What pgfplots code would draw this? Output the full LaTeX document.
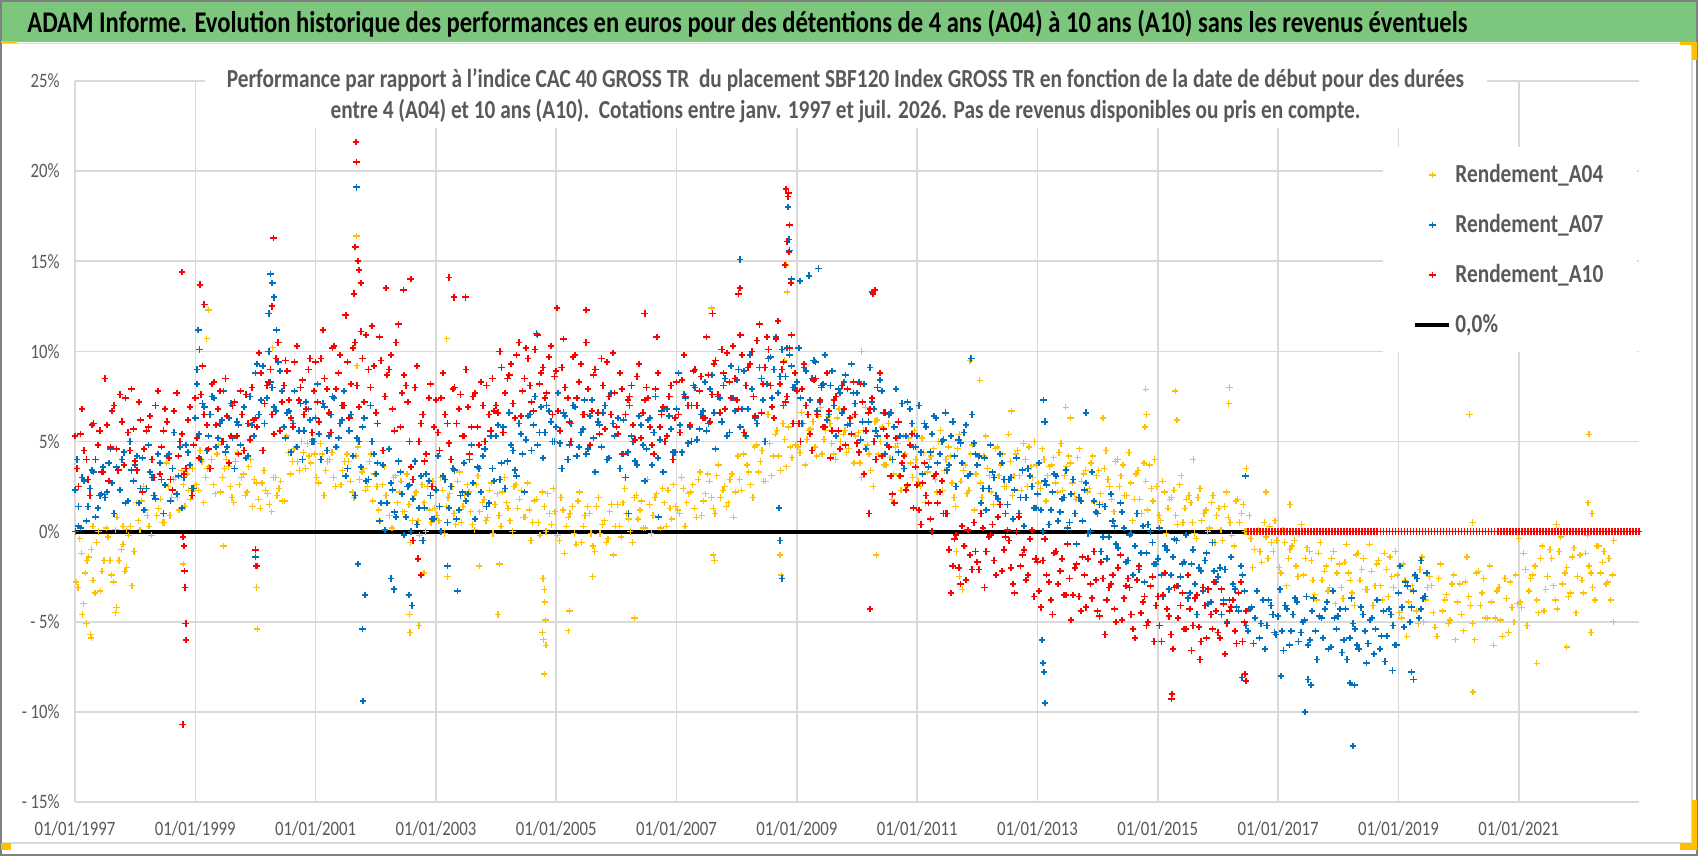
\documentclass[border=0pt]{standalone}
\usepackage{fontspec}
\setmainfont{Carlito}[FakeStretch=0.82]
\usepackage{pgfplots}
\pgfplotsset{compat=1.18}
\definecolor{cYel}{RGB}{255,192,0}
\definecolor{cBlu}{RGB}{0,112,192}
\definecolor{cRed}{RGB}{255,0,0}
\definecolor{lgray}{RGB}{89,89,89}
\definecolor{ggray}{RGB}{217,217,217}
\definecolor{bandgreen}{RGB}{125,198,125}
\definecolor{selyel}{RGB}{255,192,0}
\pgfplotsset{markleg/.style={legend image code/.code={\path[draw=none,fill=none] (0cm,-0.1cm) rectangle (0.6cm,0.1cm); \draw[##1, only marks] plot coordinates {(0.3cm,0cm)};}}}
\begin{document}
\begin{tikzpicture}
\useasboundingbox (0,0) rectangle (849bp,428bp);
\fill[white] (0,0) rectangle (849bp,428bp);
\fill[bandgreen] (0.5bp,407bp) rectangle (848.5bp,427.5bp);
\draw[ggray, line width=0.8bp] (0.5bp,6.5bp) rectangle (846bp,406.3bp);
\draw[gray, line width=1bp] (0.5bp,0.5bp) rectangle (848.5bp,427.5bp);
\fill[selyel] (0.5bp,406.3bp) rectangle (8.5bp,407.5bp);
\fill[selyel] (0.5bp,3bp) rectangle (5.5bp,6.5bp);
\fill[selyel] (846bp,3bp) rectangle (848.5bp,28bp);
\fill[selyel] (840bp,3bp) rectangle (848.5bp,6.5bp);
\fill[selyel] (840bp,405.5bp) rectangle (848.5bp,407bp);
\fill[selyel] (846bp,398bp) rectangle (848.5bp,407bp);
\begin{axis}[
  at={(37.5bp,27bp)}, anchor=south west, scale only axis,
  width=782bp, height=360.5bp,
  xmin=1997, xmax=2023, ymin=-15, ymax=25,
  clip=false,
  axis line style={draw=none},
  major tick length=0pt,
  xtick={1997,1999,...,2021},
  xticklabels={01/01/1997,01/01/1999,01/01/2001,01/01/2003,01/01/2005,01/01/2007,01/01/2009,01/01/2011,01/01/2013,01/01/2015,01/01/2017,01/01/2019,01/01/2021},
  ytick={-15,-10,...,25},
  yticklabels={- 15\%,- 10\%,- 5\%,0\%,5\%,10\%,15\%,20\%,25\%},
  grid=major,
  major grid style={ggray, line width=0.8bp},
  xticklabel style={font=\fontsize{10.2bp}{12bp}\selectfont, text=lgray, anchor=center, yshift=-13.5bp},
  yticklabel style={font=\fontsize{10.2bp}{12bp}\selectfont, text=lgray, anchor=east, inner sep=0pt, xshift=-7.5bp},
  legend cell align=left,
  legend style={at={(0.8363,0.9085)}, anchor=north west, draw=none, fill=white,
    font=\fontsize{13bp}{15bp}\selectfont\bfseries, inner xsep=15bp, inner ysep=6.5bp, row sep=10.4bp},
]
\addplot[only marks, mark=+, color=cYel, mark size=1.6bp, line width=0.65bp, markleg] table[row sep=\\] {
x y\\
1997.02 -2.8\\ 1997.08 -0.4\\ 1997.14 -4.0\\ 1997.20 -1.6\\ 1997.27 -1.0\\ 1997.33 -3.4\\ 1997.39 0.0\\ 1997.45 -2.2\\ 1997.52 0.2\\ 1997.58 -1.6\\ 1997.64 -2.8\\ 1997.70 0.8\\ 1997.77 -1.0\\ 1997.83 -2.2\\ 1997.89 -0.2\\ 1997.95 -3.0\\
1997.19 -5.1\\ 1997.26 -5.7\\ 1997.27 -5.9\\ 1997.12 -4.6\\ 1997.30 0.3\\ 1997.67 -4.5\\ 1997.69 -4.2\\ 1997.80 0.3\\ 1997.86 0.1\\
1998.02 1.6\\ 1998.08 0.1\\ 1998.14 2.5\\ 1998.20 0.9\\ 1998.27 -0.2\\ 1998.33 2.0\\ 1998.39 1.3\\ 1998.45 0.5\\ 1998.52 3.8\\ 1998.58 0.9\\ 1998.64 2.9\\ 1998.70 1.9\\ 1998.77 3.4\\ 1998.83 1.4\\ 1998.89 2.3\\ 1998.95 3.5\\
1998.82 -2.2\\ 1998.80 -1.8\\
1999.02 2.6\\ 1999.08 4.5\\ 1999.14 1.6\\ 1999.20 3.5\\ 1999.27 4.0\\ 1999.33 2.1\\ 1999.39 4.8\\ 1999.45 3.0\\ 1999.52 4.0\\ 1999.58 2.5\\ 1999.64 1.6\\ 1999.70 4.4\\ 1999.77 3.0\\ 1999.83 2.0\\ 1999.89 3.6\\ 1999.95 1.4\\
1999.22 12.3\\ 1999.19 10.7\\ 1999.47 -0.8\\
2000.02 2.7\\ 2000.08 1.3\\ 2000.14 3.4\\ 2000.20 2.1\\ 2000.27 1.1\\ 2000.33 3.0\\ 2000.39 2.4\\ 2000.45 1.7\\ 2000.52 5.3\\ 2000.58 3.2\\ 2000.64 4.6\\ 2000.70 3.9\\ 2000.77 5.0\\ 2000.83 3.5\\ 2000.89 4.2\\ 2000.95 5.1\\
2000.02 -3.1\\ 2000.03 -5.4\\ 2000.28 10.2\\
2001.02 3.0\\ 2001.08 4.9\\ 2001.14 2.0\\ 2001.20 3.9\\ 2001.27 4.4\\ 2001.33 2.5\\ 2001.39 5.2\\ 2001.45 3.4\\ 2001.52 4.3\\ 2001.58 2.8\\ 2001.64 1.9\\ 2001.70 4.7\\ 2001.77 3.3\\ 2001.83 2.3\\ 2001.89 3.9\\ 2001.95 1.7\\
2001.68 16.4\\ 2001.69 9.2\\ 2001.70 -1.8\\
2002.02 2.5\\ 2002.08 0.6\\ 2002.14 3.6\\ 2002.20 1.6\\ 2002.27 0.2\\ 2002.33 3.1\\ 2002.39 2.2\\ 2002.45 1.1\\ 2002.52 3.2\\ 2002.58 -0.6\\ 2002.64 2.0\\ 2002.70 0.6\\ 2002.77 2.6\\ 2002.83 0.0\\ 2002.89 1.2\\ 2002.95 2.8\\
2002.56 -4.6\\ 2002.57 -5.6\\ 2002.72 -5.2\\ 2002.80 -2.3\\
2003.02 0.9\\ 2003.08 3.0\\ 2003.14 -0.1\\ 2003.20 1.9\\ 2003.27 2.5\\ 2003.33 0.4\\ 2003.39 3.3\\ 2003.45 1.4\\ 2003.52 2.6\\ 2003.58 1.1\\ 2003.64 0.1\\ 2003.70 3.1\\ 2003.77 1.6\\ 2003.83 0.6\\ 2003.89 2.3\\ 2003.95 -0.1\\
2003.19 -2.5\\ 2003.18 10.7\\ 2003.72 -1.9\\
2004.02 2.1\\ 2004.08 0.3\\ 2004.14 3.0\\ 2004.20 1.3\\ 2004.27 0.0\\ 2004.33 2.6\\ 2004.39 1.8\\ 2004.45 0.8\\ 2004.52 2.7\\ 2004.58 -0.5\\ 2004.64 1.7\\ 2004.70 0.5\\ 2004.77 2.2\\ 2004.83 0.0\\ 2004.89 1.0\\ 2004.95 2.4\\
2004.06 -1.8\\ 2004.03 -4.6\\ 2004.78 -2.6\\ 2004.80 -3.2\\ 2004.81 -3.9\\ 2004.82 -4.9\\ 2004.79 -6.0\\ 2004.83 -6.3\\ 2004.80 -7.9\\ 2004.77 -5.6\\
2005.02 -0.2\\ 2005.08 1.9\\ 2005.14 -1.2\\ 2005.20 0.8\\ 2005.27 1.4\\ 2005.33 -0.7\\ 2005.39 2.2\\ 2005.45 0.3\\ 2005.52 1.4\\ 2005.58 -0.1\\ 2005.64 -1.1\\ 2005.70 1.9\\ 2005.77 0.4\\ 2005.83 -0.6\\ 2005.89 1.1\\ 2005.95 -1.3\\
2005.22 -4.4\\ 2005.20 -5.5\\ 2005.60 -2.5\\
2006.02 1.5\\ 2006.08 -0.3\\ 2006.14 2.4\\ 2006.20 0.7\\ 2006.27 -0.6\\ 2006.33 2.0\\ 2006.39 1.2\\ 2006.45 0.2\\ 2006.52 2.9\\ 2006.58 -0.1\\ 2006.64 1.9\\ 2006.70 0.8\\ 2006.77 2.4\\ 2006.83 0.3\\ 2006.89 1.3\\ 2006.95 2.6\\
2006.30 -4.8\\
2007.02 1.2\\ 2007.08 3.0\\ 2007.14 0.3\\ 2007.20 2.1\\ 2007.27 2.6\\ 2007.33 0.8\\ 2007.39 3.3\\ 2007.45 1.7\\ 2007.52 3.2\\ 2007.58 1.9\\ 2007.64 1.0\\ 2007.70 3.7\\ 2007.77 2.3\\ 2007.83 1.4\\ 2007.89 2.9\\ 2007.95 0.8\\
2007.61 -1.3\\ 2007.63 -1.6\\ 2007.58 12.4\\
2008.02 4.2\\ 2008.08 2.3\\ 2008.14 5.3\\ 2008.20 3.3\\ 2008.27 1.9\\ 2008.33 4.8\\ 2008.39 3.9\\ 2008.45 2.8\\ 2008.52 6.5\\ 2008.58 3.1\\ 2008.64 5.4\\ 2008.70 4.2\\ 2008.77 6.0\\ 2008.83 3.6\\ 2008.89 4.7\\ 2008.95 6.1\\
2008.72 -1.3\\ 2008.74 -2.4\\ 2008.82 14.8\\ 2008.84 13.3\\ 2008.80 9.5\\
2009.02 4.7\\ 2009.08 6.6\\ 2009.14 3.7\\ 2009.20 5.6\\ 2009.27 6.1\\ 2009.33 4.2\\ 2009.39 6.9\\ 2009.45 5.1\\ 2009.52 6.4\\ 2009.58 4.9\\ 2009.64 4.0\\ 2009.70 6.8\\ 2009.77 5.4\\ 2009.83 4.4\\ 2009.89 6.0\\ 2009.95 3.8\\
2010.02 5.5\\ 2010.08 3.0\\ 2010.14 6.9\\ 2010.20 4.3\\ 2010.27 2.5\\ 2010.33 6.2\\ 2010.39 5.0\\ 2010.45 3.7\\ 2010.52 6.0\\ 2010.58 1.8\\ 2010.64 4.7\\ 2010.70 3.1\\ 2010.77 5.3\\ 2010.83 2.5\\ 2010.89 3.8\\ 2010.95 5.6\\
2010.08 10.0\\ 2010.32 -1.3\\
2011.02 2.8\\ 2011.08 5.2\\ 2011.14 1.6\\ 2011.20 4.0\\ 2011.27 4.6\\ 2011.33 2.2\\ 2011.39 5.6\\ 2011.45 3.4\\ 2011.52 4.7\\ 2011.58 2.7\\ 2011.64 1.4\\ 2011.70 5.4\\ 2011.77 3.4\\ 2011.83 2.1\\ 2011.89 4.3\\ 2011.95 1.2\\
2011.65 -1.1\\ 2011.70 -2.5\\ 2011.75 -3.2\\ 2011.80 -0.8\\ 2011.88 9.5\\
2012.02 4.1\\ 2012.08 1.9\\ 2012.14 5.3\\ 2012.20 3.1\\ 2012.27 1.5\\ 2012.33 4.7\\ 2012.39 3.7\\ 2012.45 2.5\\ 2012.52 5.4\\ 2012.58 2.0\\ 2012.64 4.3\\ 2012.70 3.1\\ 2012.77 4.9\\ 2012.83 2.5\\ 2012.89 3.6\\ 2012.95 5.0\\
2012.04 8.4\\ 2012.57 6.7\\
2013.02 2.7\\ 2013.08 4.6\\ 2013.14 1.7\\ 2013.20 3.6\\ 2013.27 4.1\\ 2013.33 2.2\\ 2013.39 4.9\\ 2013.45 3.1\\ 2013.52 4.2\\ 2013.58 2.7\\ 2013.64 1.8\\ 2013.70 4.6\\ 2013.77 3.2\\ 2013.83 2.2\\ 2013.89 3.8\\ 2013.95 1.6\\
2013.47 6.9\\ 2013.55 6.3\\
2014.02 3.4\\ 2014.08 1.5\\ 2014.14 4.5\\ 2014.20 2.5\\ 2014.27 1.1\\ 2014.33 4.0\\ 2014.39 3.1\\ 2014.45 2.0\\ 2014.52 4.4\\ 2014.58 0.6\\ 2014.64 3.2\\ 2014.70 1.8\\ 2014.77 3.8\\ 2014.83 1.2\\ 2014.89 2.4\\ 2014.95 4.0\\
2014.09 6.3\\ 2014.80 7.9\\ 2014.81 6.5\\ 2014.79 5.8\\
2015.02 0.9\\ 2015.08 2.8\\ 2015.14 -0.1\\ 2015.20 1.8\\ 2015.27 2.3\\ 2015.33 0.4\\ 2015.39 3.1\\ 2015.45 1.3\\ 2015.52 2.0\\ 2015.58 0.5\\ 2015.64 -0.4\\ 2015.70 2.4\\ 2015.77 1.0\\ 2015.83 0.0\\ 2015.89 1.6\\ 2015.95 -0.6\\
2015.59 4.0\\ 2015.29 7.8\\ 2015.32 6.2\\
2016.02 1.3\\ 2016.08 -0.5\\ 2016.14 2.2\\ 2016.20 0.5\\ 2016.27 -0.8\\ 2016.33 1.8\\ 2016.39 1.0\\ 2016.45 0.0\\ 2016.52 0.9\\ 2016.58 -2.0\\ 2016.64 0.0\\ 2016.70 -1.1\\ 2016.77 0.5\\ 2016.83 -1.5\\ 2016.89 -0.6\\ 2016.95 0.6\\
2016.19 8.0\\ 2016.18 7.1\\ 2016.47 3.5\\ 2016.80 2.2\\
2017.02 -2.0\\ 2017.08 0.1\\ 2017.14 -3.0\\ 2017.20 -1.0\\ 2017.27 -0.5\\ 2017.33 -2.5\\ 2017.39 0.4\\ 2017.45 -1.5\\ 2017.52 -1.1\\ 2017.58 -2.7\\ 2017.64 -3.8\\ 2017.70 -0.6\\ 2017.77 -2.2\\ 2017.83 -3.3\\ 2017.89 -1.5\\ 2017.95 -4.0\\
2017.20 1.5\\
2018.02 -1.8\\ 2018.08 -3.7\\ 2018.14 -0.7\\ 2018.20 -2.7\\ 2018.27 -4.1\\ 2018.33 -1.2\\ 2018.39 -2.1\\ 2018.45 -3.2\\ 2018.52 -0.7\\ 2018.58 -4.1\\ 2018.64 -1.8\\ 2018.70 -3.0\\ 2018.77 -1.2\\ 2018.83 -3.6\\ 2018.89 -2.5\\ 2018.95 -1.1\\
2019.02 -4.5\\ 2019.08 -1.8\\ 2019.14 -5.8\\ 2019.20 -3.2\\ 2019.27 -2.5\\ 2019.33 -5.1\\ 2019.39 -1.4\\ 2019.45 -3.8\\ 2019.52 -2.5\\ 2019.58 -4.5\\ 2019.64 -5.8\\ 2019.70 -1.8\\ 2019.77 -3.8\\ 2019.83 -5.1\\ 2019.89 -2.9\\ 2019.95 -6.0\\
2020.02 -2.9\\ 2020.08 -5.5\\ 2020.14 -1.4\\ 2020.20 -4.1\\ 2020.27 -6.0\\ 2020.33 -2.2\\ 2020.39 -3.4\\ 2020.45 -4.8\\ 2020.52 -1.9\\ 2020.58 -6.3\\ 2020.64 -3.3\\ 2020.70 -4.9\\ 2020.77 -2.6\\ 2020.83 -5.6\\ 2020.89 -4.2\\ 2020.95 -2.4\\
2020.18 6.5\\ 2020.23 0.5\\ 2020.24 -8.9\\
2021.02 -3.9\\ 2021.08 -1.2\\ 2021.14 -5.2\\ 2021.20 -2.6\\ 2021.27 -1.9\\ 2021.33 -4.5\\ 2021.39 -0.8\\ 2021.45 -3.2\\ 2021.52 -1.0\\ 2021.58 -3.0\\ 2021.64 -4.3\\ 2021.70 -0.3\\ 2021.77 -2.3\\ 2021.83 -3.6\\ 2021.89 -1.4\\ 2021.95 -4.5\\
2021.30 -7.3\\ 2021.00 -0.4\\ 2021.80 -6.4\\ 2021.63 0.4\\
2022.02 -1.3\\ 2022.08 -3.4\\ 2022.14 -0.2\\ 2022.20 -2.3\\ 2022.27 -3.8\\ 2022.33 -0.8\\ 2022.39 -1.7\\ 2022.45 -2.9\\
2022.17 5.4\\ 2022.15 1.6\\ 2022.22 1.0\\ 2022.20 -5.6\\ 2022.50 -1.5\\ 2022.53 -3.8\\ 2022.56 -2.4\\ 2022.58 -0.5\\ 2022.57 -5.0\\
1997.05 -3.1\\ 1997.11 -1.2\\ 1997.17 -2.3\\ 1997.23 -1.4\\ 1997.30 -2.7\\ 1997.36 -0.6\\ 1997.42 -3.3\\ 1997.48 -1.6\\ 1997.55 -0.3\\ 1997.61 -2.4\\ 1997.67 0.1\\ 1997.73 -1.6\\ 1997.80 -0.7\\ 1997.86 -2.0\\ 1997.92 0.3\\ 1997.98 -1.1\\
1998.05 0.6\\ 1998.11 1.7\\ 1998.17 1.2\\ 1998.23 0.3\\ 1998.30 2.0\\ 1998.36 0.9\\ 1998.42 1.8\\ 1998.48 0.5\\ 1998.55 2.5\\ 1998.61 1.9\\ 1998.67 3.0\\ 1998.73 1.2\\ 1998.80 2.6\\ 1998.86 3.2\\ 1998.92 1.8\\ 1998.98 2.4\\
1999.05 2.3\\ 1999.11 3.9\\ 1999.17 3.0\\ 1999.23 3.6\\ 1999.30 2.6\\ 1999.36 4.3\\ 1999.42 2.2\\ 1999.48 3.5\\ 1999.55 3.6\\ 1999.61 1.9\\ 1999.67 3.9\\ 1999.73 2.6\\ 1999.80 3.2\\ 1999.86 2.2\\ 1999.92 4.0\\ 1999.98 2.9\\
2000.05 1.8\\ 2000.11 2.7\\ 2000.17 2.3\\ 2000.23 1.5\\ 2000.30 3.0\\ 2000.36 2.0\\ 2000.42 2.8\\ 2000.48 1.7\\ 2000.55 4.4\\ 2000.61 3.9\\ 2000.67 4.7\\ 2000.73 3.4\\ 2000.80 4.4\\ 2000.86 4.9\\ 2000.92 3.8\\ 2000.98 4.3\\
2001.05 2.7\\ 2001.11 4.3\\ 2001.17 3.4\\ 2001.23 4.0\\ 2001.30 3.0\\ 2001.36 4.7\\ 2001.42 2.6\\ 2001.48 3.9\\ 2001.55 3.9\\ 2001.61 2.2\\ 2001.67 4.2\\ 2001.73 2.9\\ 2001.80 3.5\\ 2001.86 2.5\\ 2001.92 4.3\\ 2001.98 3.2\\
2002.05 1.2\\ 2002.11 2.6\\ 2002.17 2.0\\ 2002.23 0.9\\ 2002.30 3.0\\ 2002.36 1.6\\ 2002.42 2.8\\ 2002.48 1.1\\ 2002.55 1.5\\ 2002.61 0.6\\ 2002.67 2.2\\ 2002.73 -0.2\\ 2002.80 1.6\\ 2002.86 2.5\\ 2002.92 0.5\\ 2002.98 1.3\\
2003.05 0.6\\ 2003.11 2.3\\ 2003.17 1.4\\ 2003.23 2.1\\ 2003.30 1.0\\ 2003.36 2.8\\ 2003.42 0.5\\ 2003.48 2.0\\ 2003.55 2.2\\ 2003.61 0.4\\ 2003.67 2.6\\ 2003.73 1.1\\ 2003.80 1.8\\ 2003.86 0.8\\ 2003.92 2.7\\ 2003.98 1.5\\
2004.05 0.9\\ 2004.11 2.2\\ 2004.17 1.6\\ 2004.23 0.6\\ 2004.30 2.5\\ 2004.36 1.3\\ 2004.42 2.3\\ 2004.48 0.8\\ 2004.55 1.2\\ 2004.61 0.5\\ 2004.67 1.8\\ 2004.73 -0.2\\ 2004.80 1.4\\ 2004.86 2.1\\ 2004.92 0.4\\ 2004.98 1.1\\
2005.05 -0.5\\ 2005.11 1.2\\ 2005.17 0.3\\ 2005.23 1.0\\ 2005.30 -0.1\\ 2005.36 1.7\\ 2005.42 -0.6\\ 2005.48 0.9\\ 2005.55 1.0\\ 2005.61 -0.8\\ 2005.67 1.4\\ 2005.73 -0.1\\ 2005.80 0.6\\ 2005.86 -0.4\\ 2005.92 1.5\\ 2005.98 0.3\\
2006.05 0.3\\ 2006.11 1.6\\ 2006.17 1.0\\ 2006.23 0.0\\ 2006.30 1.9\\ 2006.36 0.7\\ 2006.42 1.7\\ 2006.48 0.2\\ 2006.55 1.5\\ 2006.61 0.9\\ 2006.67 2.1\\ 2006.73 0.2\\ 2006.80 1.6\\ 2006.86 2.3\\ 2006.92 0.7\\ 2006.98 1.4\\
2007.05 1.0\\ 2007.11 2.4\\ 2007.17 1.6\\ 2007.23 2.2\\ 2007.30 1.3\\ 2007.36 2.9\\ 2007.42 0.9\\ 2007.48 2.1\\ 2007.55 2.8\\ 2007.61 1.3\\ 2007.67 3.1\\ 2007.73 1.9\\ 2007.80 2.5\\ 2007.86 1.6\\ 2007.92 3.2\\ 2007.98 2.2\\
2008.05 2.9\\ 2008.11 4.3\\ 2008.17 3.7\\ 2008.23 2.6\\ 2008.30 4.7\\ 2008.36 3.3\\ 2008.42 4.5\\ 2008.48 2.8\\ 2008.55 4.9\\ 2008.61 4.2\\ 2008.67 5.6\\ 2008.73 3.4\\ 2008.80 5.1\\ 2008.86 5.8\\ 2008.92 4.1\\ 2008.98 4.8\\
2009.05 4.4\\ 2009.11 6.0\\ 2009.17 5.1\\ 2009.23 5.7\\ 2009.30 4.7\\ 2009.36 6.4\\ 2009.42 4.3\\ 2009.48 5.6\\ 2009.55 6.0\\ 2009.61 4.3\\ 2009.67 6.3\\ 2009.73 5.0\\ 2009.80 5.6\\ 2009.86 4.6\\ 2009.92 6.4\\ 2009.98 5.3\\
2010.05 3.8\\ 2010.11 5.6\\ 2010.17 4.8\\ 2010.23 3.4\\ 2010.30 6.1\\ 2010.36 4.3\\ 2010.42 5.8\\ 2010.48 3.7\\ 2010.55 4.1\\ 2010.61 3.2\\ 2010.67 4.9\\ 2010.73 2.3\\ 2010.80 4.3\\ 2010.86 5.2\\ 2010.92 3.0\\ 2010.98 4.0\\
2011.05 2.5\\ 2011.11 4.4\\ 2011.17 3.3\\ 2011.23 4.2\\ 2011.30 2.9\\ 2011.36 5.0\\ 2011.42 2.3\\ 2011.48 4.0\\ 2011.55 4.2\\ 2011.61 1.9\\ 2011.67 4.6\\ 2011.73 2.8\\ 2011.80 3.7\\ 2011.86 2.3\\ 2011.92 4.8\\ 2011.98 3.2\\
2012.05 2.7\\ 2012.11 4.2\\ 2012.17 3.5\\ 2012.23 2.2\\ 2012.30 4.6\\ 2012.36 3.1\\ 2012.42 4.3\\ 2012.48 2.5\\ 2012.55 3.9\\ 2012.61 3.1\\ 2012.67 4.5\\ 2012.73 2.3\\ 2012.80 4.0\\ 2012.86 4.7\\ 2012.92 3.0\\ 2012.98 3.7\\
2013.05 2.4\\ 2013.11 4.0\\ 2013.17 3.1\\ 2013.23 3.7\\ 2013.30 2.7\\ 2013.36 4.4\\ 2013.42 2.3\\ 2013.48 3.6\\ 2013.55 3.8\\ 2013.61 2.1\\ 2013.67 4.1\\ 2013.73 2.8\\ 2013.80 3.4\\ 2013.86 2.4\\ 2013.92 4.2\\ 2013.98 3.1\\
2014.05 2.1\\ 2014.11 3.5\\ 2014.17 2.9\\ 2014.23 1.8\\ 2014.30 3.9\\ 2014.36 2.5\\ 2014.42 3.7\\ 2014.48 2.0\\ 2014.55 2.7\\ 2014.61 1.8\\ 2014.67 3.4\\ 2014.73 1.0\\ 2014.80 2.8\\ 2014.86 3.7\\ 2014.92 1.7\\ 2014.98 2.5\\
2015.05 0.6\\ 2015.11 2.2\\ 2015.17 1.3\\ 2015.23 1.9\\ 2015.30 0.9\\ 2015.36 2.6\\ 2015.42 0.5\\ 2015.48 1.8\\ 2015.55 1.6\\ 2015.61 -0.1\\ 2015.67 1.9\\ 2015.73 0.6\\ 2015.80 1.2\\ 2015.86 0.2\\ 2015.92 2.0\\ 2015.98 0.9\\
2016.05 0.1\\ 2016.11 1.4\\ 2016.17 0.8\\ 2016.23 -0.2\\ 2016.30 1.7\\ 2016.36 0.5\\ 2016.42 1.5\\ 2016.48 0.0\\ 2016.55 -0.4\\ 2016.61 -1.0\\ 2016.67 0.1\\ 2016.73 -1.7\\ 2016.80 -0.3\\ 2016.86 0.3\\ 2016.92 -1.1\\ 2016.98 -0.5\\
2017.05 -2.3\\ 2017.11 -0.6\\ 2017.17 -1.5\\ 2017.23 -0.8\\ 2017.30 -1.9\\ 2017.36 -0.1\\ 2017.42 -2.4\\ 2017.48 -0.9\\ 2017.55 -1.6\\ 2017.61 -3.5\\ 2017.67 -1.2\\ 2017.73 -2.7\\ 2017.80 -1.9\\ 2017.86 -3.1\\ 2017.92 -1.1\\ 2017.98 -2.3\\
2018.05 -3.1\\ 2018.11 -1.7\\ 2018.17 -2.3\\ 2018.23 -3.4\\ 2018.30 -1.3\\ 2018.36 -2.7\\ 2018.42 -1.5\\ 2018.48 -3.2\\ 2018.55 -2.2\\ 2018.61 -3.0\\ 2018.67 -1.6\\ 2018.73 -3.8\\ 2018.80 -2.1\\ 2018.86 -1.4\\ 2018.92 -3.1\\ 2018.98 -2.4\\
2019.05 -4.8\\ 2019.11 -2.7\\ 2019.17 -3.9\\ 2019.23 -3.0\\ 2019.30 -4.4\\ 2019.36 -2.1\\ 2019.42 -5.0\\ 2019.48 -3.1\\ 2019.55 -3.0\\ 2019.61 -5.3\\ 2019.67 -2.6\\ 2019.73 -4.4\\ 2019.80 -3.5\\ 2019.86 -4.9\\ 2019.92 -2.4\\ 2019.98 -3.9\\
2020.05 -4.6\\ 2020.11 -2.8\\ 2020.17 -3.6\\ 2020.23 -5.1\\ 2020.30 -2.3\\ 2020.36 -4.1\\ 2020.42 -2.6\\ 2020.48 -4.8\\ 2020.55 -3.9\\ 2020.61 -4.8\\ 2020.67 -3.1\\ 2020.73 -5.8\\ 2020.80 -3.7\\ 2020.86 -2.8\\ 2020.92 -5.0\\ 2020.98 -4.0\\
2021.05 -4.2\\ 2021.11 -2.1\\ 2021.17 -3.3\\ 2021.23 -2.4\\ 2021.30 -3.8\\ 2021.36 -1.5\\ 2021.42 -4.4\\ 2021.48 -2.5\\ 2021.55 -1.5\\ 2021.61 -3.8\\ 2021.67 -1.1\\ 2021.73 -2.9\\ 2021.80 -2.0\\ 2021.86 -3.4\\ 2021.92 -0.9\\ 2021.98 -2.5\\
2022.05 -2.7\\ 2022.11 -1.2\\ 2022.17 -1.9\\ 2022.23 -3.1\\ 2022.30 -0.8\\ 2022.36 -2.3\\ 2022.42 -1.1\\ 2022.48 -2.8\\
};
\addlegendentry{\textcolor{lgray}{Rendement\_A04}}
\addplot[only marks, mark=+, color=cBlu, mark size=1.6bp, line width=0.85bp, markleg] table[row sep=\\] {
x y\\
1997.03 4.0\\ 1997.09 0.2\\ 1997.15 2.8\\ 1997.22 1.4\\ 1997.28 3.4\\ 1997.34 0.8\\ 1997.41 2.0\\ 1997.47 3.6\\ 1997.53 2.2\\ 1997.59 4.6\\ 1997.65 1.0\\ 1997.72 3.4\\ 1997.78 4.0\\ 1997.84 1.6\\ 1997.91 5.0\\ 1997.97 2.8\\
1997.01 0.0\\ 1997.06 0.3\\
1998.03 4.2\\ 1998.09 2.4\\ 1998.15 1.2\\ 1998.22 4.8\\ 1998.28 3.0\\ 1998.34 1.8\\ 1998.41 3.8\\ 1998.47 1.0\\ 1998.53 4.2\\ 1998.59 1.7\\ 1998.65 5.5\\ 1998.72 3.1\\ 1998.78 1.3\\ 1998.84 4.8\\ 1998.91 3.7\\ 1998.97 2.4\\
1999.03 9.0\\ 1999.05 11.2\\ 1999.07 10.1\\
1999.03 8.2\\ 1999.09 4.0\\ 1999.15 6.9\\ 1999.22 5.3\\ 1999.28 7.5\\ 1999.34 4.7\\ 1999.41 6.0\\ 1999.47 7.8\\ 1999.53 4.7\\ 1999.59 7.1\\ 1999.65 3.5\\ 1999.72 5.9\\ 1999.78 6.5\\ 1999.84 4.1\\ 1999.91 7.5\\ 1999.97 5.3\\
2000.03 9.3\\ 2000.09 7.3\\ 2000.15 6.0\\ 2000.22 10.0\\ 2000.28 8.0\\ 2000.34 6.7\\ 2000.41 8.9\\ 2000.47 5.8\\ 2000.53 6.6\\ 2000.59 4.4\\ 2000.65 7.8\\ 2000.72 5.6\\ 2000.78 4.0\\ 2000.84 7.2\\ 2000.91 6.2\\ 2000.97 5.0\\
2000.00 -1.4\\ 2000.01 -1.9\\ 2000.25 14.3\\ 2000.28 13.8\\ 2000.31 13.0\\ 2000.22 12.1\\ 2000.35 11.2\\
2001.03 8.2\\ 2001.09 4.0\\ 2001.15 6.9\\ 2001.22 5.3\\ 2001.28 7.5\\ 2001.34 4.7\\ 2001.41 6.0\\ 2001.47 7.8\\ 2001.53 3.5\\ 2001.59 6.5\\ 2001.65 2.0\\ 2001.72 5.0\\ 2001.78 5.8\\ 2001.84 2.8\\ 2001.91 7.0\\ 2001.97 4.3\\
2001.68 19.1\\ 2001.70 -1.8\\ 2001.82 -3.5\\ 2001.78 -5.4\\ 2001.79 -9.4\\
2002.03 3.8\\ 2002.09 1.6\\ 2002.15 0.1\\ 2002.22 4.6\\ 2002.28 2.3\\ 2002.34 0.8\\ 2002.41 3.3\\ 2002.47 -0.2\\ 2002.53 2.5\\ 2002.59 0.0\\ 2002.65 3.9\\ 2002.72 1.3\\ 2002.78 -0.5\\ 2002.84 3.2\\ 2002.91 2.0\\ 2002.97 0.7\\
2002.25 -2.6\\ 2002.30 -3.2\\ 2002.55 -3.5\\ 2002.60 -4.1\\
2003.03 4.2\\ 2003.09 0.0\\ 2003.15 2.9\\ 2003.22 1.3\\ 2003.28 3.5\\ 2003.34 0.7\\ 2003.41 2.0\\ 2003.47 3.8\\ 2003.53 2.1\\ 2003.59 4.8\\ 2003.65 0.7\\ 2003.72 3.5\\ 2003.78 4.2\\ 2003.84 1.4\\ 2003.91 5.3\\ 2003.97 2.8\\
2003.19 -1.9\\ 2003.36 -3.3\\
2004.03 5.9\\ 2004.09 3.8\\ 2004.15 2.4\\ 2004.22 6.6\\ 2004.28 4.5\\ 2004.34 3.1\\ 2004.41 5.4\\ 2004.47 2.2\\ 2004.53 6.4\\ 2004.59 4.5\\ 2004.65 7.5\\ 2004.72 5.5\\ 2004.78 4.1\\ 2004.84 7.0\\ 2004.91 6.1\\ 2004.97 5.0\\
2004.67 11.0\\
2005.03 7.7\\ 2005.09 3.5\\ 2005.15 6.4\\ 2005.22 4.8\\ 2005.28 7.0\\ 2005.34 4.2\\ 2005.41 5.5\\ 2005.47 7.3\\ 2005.53 4.6\\ 2005.59 7.3\\ 2005.65 3.3\\ 2005.72 5.9\\ 2005.78 6.6\\ 2005.84 4.0\\ 2005.91 7.7\\ 2005.97 5.3\\
2006.03 6.3\\ 2006.09 4.3\\ 2006.15 3.0\\ 2006.22 7.0\\ 2006.28 5.0\\ 2006.34 3.7\\ 2006.41 5.9\\ 2006.47 2.8\\ 2006.53 6.2\\ 2006.59 3.7\\ 2006.65 7.5\\ 2006.72 5.1\\ 2006.78 3.3\\ 2006.84 6.8\\ 2006.91 5.7\\ 2006.97 4.4\\
2006.20 1.0\\ 2006.70 0.8\\
2007.03 8.8\\ 2007.09 4.4\\ 2007.15 7.4\\ 2007.22 5.8\\ 2007.28 8.1\\ 2007.34 5.1\\ 2007.41 6.5\\ 2007.47 8.3\\ 2007.53 6.0\\ 2007.59 8.7\\ 2007.65 4.6\\ 2007.72 7.4\\ 2007.78 8.1\\ 2007.84 5.3\\ 2007.91 9.2\\ 2007.97 6.7\\
2008.03 9.0\\ 2008.09 6.8\\ 2008.15 5.3\\ 2008.22 9.8\\ 2008.28 7.5\\ 2008.34 6.0\\ 2008.41 8.5\\ 2008.47 5.0\\ 2008.53 9.6\\ 2008.59 7.4\\ 2008.65 10.8\\ 2008.72 8.6\\ 2008.78 7.0\\ 2008.84 10.2\\ 2008.91 9.2\\ 2008.97 8.0\\
2008.05 15.1\\ 2008.85 18.0\\ 2008.87 16.2\\ 2008.88 15.6\\ 2008.91 14.0\\ 2008.72 -0.5\\ 2008.75 -2.6\\ 2008.70 1.3\\
2009.03 10.2\\ 2009.09 6.0\\ 2009.15 8.9\\ 2009.22 7.3\\ 2009.28 9.5\\ 2009.34 6.7\\ 2009.41 8.0\\ 2009.47 9.8\\ 2009.53 6.5\\ 2009.59 8.9\\ 2009.65 5.3\\ 2009.72 7.7\\ 2009.78 8.3\\ 2009.84 5.9\\ 2009.91 9.3\\ 2009.97 7.1\\
2009.05 13.9\\ 2009.20 14.2\\ 2009.36 14.6\\
2010.03 8.3\\ 2010.09 6.1\\ 2010.15 4.6\\ 2010.22 9.1\\ 2010.28 6.8\\ 2010.34 5.3\\ 2010.41 7.8\\ 2010.47 4.3\\ 2010.53 6.5\\ 2010.59 4.0\\ 2010.65 7.9\\ 2010.72 5.3\\ 2010.78 3.5\\ 2010.84 7.2\\ 2010.91 6.0\\ 2010.97 4.7\\
2010.25 13.3\\
2011.03 7.0\\ 2011.09 3.2\\ 2011.15 5.8\\ 2011.22 4.4\\ 2011.28 6.4\\ 2011.34 3.8\\ 2011.41 5.0\\ 2011.47 6.6\\ 2011.53 3.7\\ 2011.59 6.1\\ 2011.65 2.5\\ 2011.72 4.9\\ 2011.78 5.5\\ 2011.84 3.1\\ 2011.91 6.5\\ 2011.97 4.3\\
2011.90 9.6\\
2012.03 4.2\\ 2012.09 2.4\\ 2012.15 1.2\\ 2012.22 4.8\\ 2012.28 3.0\\ 2012.34 1.8\\ 2012.41 3.8\\ 2012.47 1.0\\ 2012.53 2.9\\ 2012.59 0.7\\ 2012.65 4.1\\ 2012.72 1.9\\ 2012.78 0.3\\ 2012.84 3.5\\ 2012.91 2.5\\ 2012.97 1.3\\
2013.03 3.8\\ 2013.09 0.0\\ 2013.15 2.6\\ 2013.22 1.2\\ 2013.28 3.2\\ 2013.34 0.6\\ 2013.41 1.8\\ 2013.47 3.4\\ 2013.53 0.5\\ 2013.59 2.9\\ 2013.65 -0.7\\ 2013.72 1.7\\ 2013.78 2.3\\ 2013.84 -0.1\\ 2013.91 3.3\\ 2013.97 1.1\\
2013.10 7.3\\ 2013.12 6.1\\ 2013.08 -6.0\\ 2013.09 -7.3\\ 2013.11 -7.8\\ 2013.13 -9.5\\ 2013.81 6.6\\
2014.03 1.5\\ 2014.09 -0.3\\ 2014.15 -1.5\\ 2014.22 2.1\\ 2014.28 0.3\\ 2014.34 -0.9\\ 2014.41 1.1\\ 2014.47 -1.7\\ 2014.53 -0.2\\ 2014.59 -2.4\\ 2014.65 1.0\\ 2014.72 -1.2\\ 2014.78 -2.8\\ 2014.84 0.4\\ 2014.91 -0.6\\ 2014.97 -1.8\\
2015.03 0.2\\ 2015.09 -3.6\\ 2015.15 -1.0\\ 2015.22 -2.4\\ 2015.28 -0.4\\ 2015.34 -3.0\\ 2015.41 -1.8\\ 2015.47 -0.2\\ 2015.53 -3.4\\ 2015.59 -1.0\\ 2015.65 -4.6\\ 2015.72 -2.2\\ 2015.78 -1.6\\ 2015.84 -4.0\\ 2015.91 -0.6\\ 2015.97 -2.8\\
2016.03 -2.0\\ 2016.09 -3.8\\ 2016.15 -5.0\\ 2016.22 -1.4\\ 2016.28 -3.2\\ 2016.34 -4.4\\ 2016.41 -2.4\\ 2016.47 -5.2\\ 2016.53 -4.3\\ 2016.59 -6.2\\ 2016.65 -3.3\\ 2016.72 -5.1\\ 2016.78 -6.5\\ 2016.84 -3.8\\ 2016.91 -4.6\\ 2016.97 -5.7\\
2016.40 -8.1\\ 2016.46 3.1\\
2017.03 -3.2\\ 2017.09 -6.6\\ 2017.15 -4.3\\ 2017.22 -5.5\\ 2017.28 -3.7\\ 2017.34 -6.1\\ 2017.41 -5.0\\ 2017.47 -3.6\\ 2017.53 -6.0\\ 2017.59 -3.7\\ 2017.65 -7.1\\ 2017.72 -4.8\\ 2017.78 -4.3\\ 2017.84 -6.5\\ 2017.91 -3.3\\ 2017.97 -5.4\\
2017.05 -8.0\\ 2017.45 -10.0\\ 2017.50 -8.2\\ 2017.55 -8.5\\
2018.03 -4.3\\ 2018.09 -6.0\\ 2018.15 -7.1\\ 2018.22 -3.7\\ 2018.28 -5.4\\ 2018.34 -6.5\\ 2018.41 -4.6\\ 2018.47 -7.3\\ 2018.53 -4.9\\ 2018.59 -6.8\\ 2018.65 -3.8\\ 2018.72 -5.8\\ 2018.78 -7.2\\ 2018.84 -4.3\\ 2018.91 -5.2\\ 2018.97 -6.3\\
2018.25 -11.9\\ 2018.20 -8.4\\ 2018.27 -8.5\\ 2018.90 -7.7\\
2019.03 -1.9\\ 2019.09 -5.3\\ 2019.15 -3.0\\ 2019.22 -4.2\\ 2019.28 -2.4\\ 2019.34 -4.8\\ 2019.41 -3.7\\ 2019.47 -2.3\\
2019.22 -7.8\\ 2019.25 -8.2\\ 2019.38 -1.6\\
1997.00 2.3\\ 1997.06 1.4\\ 1997.12 3.0\\ 1997.19 0.6\\ 1997.25 2.4\\ 1997.31 3.3\\ 1997.38 1.3\\ 1997.44 2.1\\ 1997.50 1.9\\ 1997.56 3.8\\ 1997.62 2.7\\ 1997.69 3.6\\ 1997.75 2.3\\ 1997.81 4.4\\ 1997.88 1.7\\ 1997.94 3.4\\
1998.00 3.7\\ 1998.06 1.6\\ 1998.12 4.1\\ 1998.19 2.4\\ 1998.25 3.3\\ 1998.31 2.0\\ 1998.38 4.3\\ 1998.44 2.9\\ 1998.50 2.6\\ 1998.56 4.3\\ 1998.62 3.5\\ 1998.69 2.1\\ 1998.75 4.7\\ 1998.81 3.0\\ 1998.88 4.4\\ 1998.94 2.4\\
1999.00 6.3\\ 1999.06 5.4\\ 1999.12 7.1\\ 1999.19 4.5\\ 1999.25 6.5\\ 1999.31 7.4\\ 1999.38 5.2\\ 1999.44 6.2\\ 1999.50 4.4\\ 1999.56 6.3\\ 1999.62 5.2\\ 1999.69 6.1\\ 1999.75 4.8\\ 1999.81 6.9\\ 1999.88 4.2\\ 1999.94 5.9\\
2000.00 8.8\\ 2000.06 6.5\\ 2000.12 9.2\\ 2000.19 7.4\\ 2000.25 8.3\\ 2000.31 6.9\\ 2000.38 9.4\\ 2000.44 7.8\\ 2000.50 5.2\\ 2000.56 6.7\\ 2000.62 6.0\\ 2000.69 4.7\\ 2000.75 7.1\\ 2000.81 5.6\\ 2000.88 6.8\\ 2000.94 5.0\\
2001.00 6.3\\ 2001.06 5.4\\ 2001.12 7.1\\ 2001.19 4.5\\ 2001.25 6.5\\ 2001.31 7.4\\ 2001.38 5.2\\ 2001.44 6.2\\ 2001.50 3.1\\ 2001.56 5.6\\ 2001.62 4.2\\ 2001.69 5.2\\ 2001.75 3.6\\ 2001.81 6.3\\ 2001.88 2.9\\ 2001.94 5.0\\
2002.00 3.2\\ 2002.06 0.6\\ 2002.12 3.7\\ 2002.19 1.6\\ 2002.25 2.7\\ 2002.31 1.1\\ 2002.38 3.9\\ 2002.44 2.1\\ 2002.50 0.8\\ 2002.56 2.6\\ 2002.62 1.8\\ 2002.69 0.4\\ 2002.75 3.1\\ 2002.81 1.3\\ 2002.88 2.8\\ 2002.94 0.7\\
2003.00 2.3\\ 2003.06 1.4\\ 2003.12 3.1\\ 2003.19 0.5\\ 2003.25 2.5\\ 2003.31 3.4\\ 2003.38 1.2\\ 2003.44 2.2\\ 2003.50 1.7\\ 2003.56 4.0\\ 2003.62 2.7\\ 2003.69 3.6\\ 2003.75 2.2\\ 2003.81 4.6\\ 2003.88 1.6\\ 2003.94 3.5\\
2004.00 5.3\\ 2004.06 2.9\\ 2004.12 5.8\\ 2004.19 3.9\\ 2004.25 4.8\\ 2004.31 3.4\\ 2004.38 6.0\\ 2004.44 4.3\\ 2004.50 5.1\\ 2004.56 6.5\\ 2004.62 5.9\\ 2004.69 4.8\\ 2004.75 6.9\\ 2004.81 5.5\\ 2004.88 6.7\\ 2004.94 5.0\\
2005.00 5.8\\ 2005.06 4.9\\ 2005.12 6.6\\ 2005.19 4.0\\ 2005.25 6.0\\ 2005.31 6.9\\ 2005.38 4.7\\ 2005.44 5.7\\ 2005.50 4.3\\ 2005.56 6.4\\ 2005.62 5.2\\ 2005.69 6.1\\ 2005.75 4.7\\ 2005.81 7.0\\ 2005.88 4.1\\ 2005.94 6.0\\
2006.00 5.8\\ 2006.06 3.5\\ 2006.12 6.2\\ 2006.19 4.4\\ 2006.25 5.3\\ 2006.31 3.9\\ 2006.38 6.4\\ 2006.44 4.8\\ 2006.50 4.6\\ 2006.56 6.3\\ 2006.62 5.5\\ 2006.69 4.1\\ 2006.75 6.7\\ 2006.81 5.0\\ 2006.88 6.4\\ 2006.94 4.4\\
2007.00 6.8\\ 2007.06 5.9\\ 2007.12 7.6\\ 2007.19 4.9\\ 2007.25 7.0\\ 2007.31 8.0\\ 2007.38 5.7\\ 2007.44 6.7\\ 2007.50 5.6\\ 2007.56 7.9\\ 2007.62 6.6\\ 2007.69 7.5\\ 2007.75 6.1\\ 2007.81 8.5\\ 2007.88 5.5\\ 2007.94 7.4\\
2008.00 8.4\\ 2008.06 5.8\\ 2008.12 8.9\\ 2008.19 6.8\\ 2008.25 7.9\\ 2008.31 6.3\\ 2008.38 9.1\\ 2008.44 7.3\\ 2008.50 8.2\\ 2008.56 9.7\\ 2008.62 9.0\\ 2008.69 7.7\\ 2008.75 10.1\\ 2008.81 8.6\\ 2008.88 9.8\\ 2008.94 8.0\\
2009.00 8.3\\ 2009.06 7.4\\ 2009.12 9.1\\ 2009.19 6.5\\ 2009.25 8.5\\ 2009.31 9.4\\ 2009.38 7.2\\ 2009.44 8.2\\ 2009.50 6.2\\ 2009.56 8.1\\ 2009.62 7.0\\ 2009.69 7.9\\ 2009.75 6.6\\ 2009.81 8.7\\ 2009.88 6.0\\ 2009.94 7.7\\
2010.00 7.7\\ 2010.06 5.1\\ 2010.12 8.2\\ 2010.19 6.1\\ 2010.25 7.2\\ 2010.31 5.6\\ 2010.38 8.4\\ 2010.44 6.6\\ 2010.50 4.8\\ 2010.56 6.6\\ 2010.62 5.8\\ 2010.69 4.4\\ 2010.75 7.1\\ 2010.81 5.3\\ 2010.88 6.8\\ 2010.94 4.7\\
2011.00 5.3\\ 2011.06 4.4\\ 2011.12 6.0\\ 2011.19 3.6\\ 2011.25 5.4\\ 2011.31 6.3\\ 2011.38 4.3\\ 2011.44 5.1\\ 2011.50 3.4\\ 2011.56 5.3\\ 2011.62 4.2\\ 2011.69 5.1\\ 2011.75 3.8\\ 2011.81 5.9\\ 2011.88 3.2\\ 2011.94 4.9\\
2012.00 3.7\\ 2012.06 1.6\\ 2012.12 4.1\\ 2012.19 2.4\\ 2012.25 3.3\\ 2012.31 2.0\\ 2012.38 4.3\\ 2012.44 2.9\\ 2012.50 1.5\\ 2012.56 3.0\\ 2012.62 2.3\\ 2012.69 1.0\\ 2012.75 3.4\\ 2012.81 1.9\\ 2012.88 3.1\\ 2012.94 1.3\\
2013.00 2.1\\ 2013.06 1.2\\ 2013.12 2.8\\ 2013.19 0.4\\ 2013.25 2.2\\ 2013.31 3.1\\ 2013.38 1.1\\ 2013.44 1.9\\ 2013.50 0.2\\ 2013.56 2.1\\ 2013.62 1.0\\ 2013.69 1.9\\ 2013.75 0.6\\ 2013.81 2.7\\ 2013.88 0.0\\ 2013.94 1.7\\
2014.00 1.0\\ 2014.06 -1.1\\ 2014.12 1.4\\ 2014.19 -0.3\\ 2014.25 0.6\\ 2014.31 -0.7\\ 2014.38 1.6\\ 2014.44 0.2\\ 2014.50 -1.6\\ 2014.56 -0.1\\ 2014.62 -0.8\\ 2014.69 -2.1\\ 2014.75 0.3\\ 2014.81 -1.2\\ 2014.88 0.0\\ 2014.94 -1.8\\
2015.00 -1.5\\ 2015.06 -2.4\\ 2015.12 -0.8\\ 2015.19 -3.2\\ 2015.25 -1.4\\ 2015.31 -0.5\\ 2015.38 -2.5\\ 2015.44 -1.7\\ 2015.50 -3.7\\ 2015.56 -1.8\\ 2015.62 -2.9\\ 2015.69 -2.0\\ 2015.75 -3.3\\ 2015.81 -1.2\\ 2015.88 -3.9\\ 2015.94 -2.2\\
2016.00 -2.5\\ 2016.06 -4.6\\ 2016.12 -2.1\\ 2016.19 -3.8\\ 2016.25 -2.9\\ 2016.31 -4.2\\ 2016.38 -1.9\\ 2016.44 -3.3\\ 2016.50 -5.5\\ 2016.56 -4.2\\ 2016.62 -4.8\\ 2016.69 -5.9\\ 2016.75 -3.8\\ 2016.81 -5.2\\ 2016.88 -4.1\\ 2016.94 -5.6\\
2017.00 -4.7\\ 2017.06 -5.5\\ 2017.12 -4.1\\ 2017.19 -6.3\\ 2017.25 -4.6\\ 2017.31 -3.9\\ 2017.38 -5.6\\ 2017.44 -4.9\\ 2017.50 -6.3\\ 2017.56 -4.4\\ 2017.62 -5.5\\ 2017.69 -4.7\\ 2017.75 -5.9\\ 2017.81 -3.9\\ 2017.88 -6.4\\ 2017.94 -4.8\\
2018.00 -4.7\\ 2018.06 -6.7\\ 2018.12 -4.3\\ 2018.19 -5.9\\ 2018.25 -5.1\\ 2018.31 -6.3\\ 2018.38 -4.2\\ 2018.44 -5.5\\ 2018.50 -6.2\\ 2018.56 -4.8\\ 2018.62 -5.4\\ 2018.69 -6.5\\ 2018.75 -4.4\\ 2018.81 -5.8\\ 2018.88 -4.6\\ 2018.94 -6.3\\
2019.00 -3.4\\ 2019.06 -4.2\\ 2019.12 -2.8\\ 2019.19 -5.0\\ 2019.25 -3.3\\ 2019.31 -2.6\\ 2019.38 -4.3\\ 2019.44 -3.6\\
};
\addlegendentry{\textcolor{lgray}{Rendement\_A07}}
\addplot[only marks, mark=+, color=cRed, mark size=1.6bp, line width=0.85bp, markleg] table[row sep=\\] {
x y\\
1997.00 5.3\\ 1997.06 2.5\\ 1997.12 6.8\\ 1997.19 4.0\\ 1997.25 2.0\\ 1997.31 6.0\\ 1997.38 4.8\\ 1997.44 3.3\\ 1997.50 8.5\\ 1997.56 2.8\\ 1997.62 6.7\\ 1997.69 4.6\\ 1997.75 7.6\\ 1997.81 3.7\\ 1997.88 5.5\\ 1997.94 7.9\\
1998.00 3.9\\ 1998.06 7.2\\ 1998.12 2.2\\ 1998.19 5.6\\ 1998.25 6.4\\ 1998.31 3.0\\ 1998.38 7.8\\ 1998.44 4.7\\ 1998.50 6.8\\ 1998.56 4.1\\ 1998.62 2.3\\ 1998.69 7.7\\ 1998.75 5.0\\ 1998.81 3.2\\ 1998.88 6.2\\ 1998.94 2.0\\
1998.78 14.4\\ 1998.80 -0.3\\ 1998.81 -0.8\\ 1998.82 -2.2\\ 1998.83 -3.1\\ 1998.84 -5.1\\ 1998.85 -6.0\\ 1998.79 -10.7\\
1999.00 7.4\\ 1999.06 4.1\\ 1999.12 9.2\\ 1999.19 5.9\\ 1999.25 3.5\\ 1999.31 8.3\\ 1999.38 6.8\\ 1999.44 5.0\\ 1999.50 8.5\\ 1999.56 3.8\\ 1999.62 7.0\\ 1999.69 5.3\\ 1999.75 7.8\\ 1999.81 4.5\\ 1999.88 6.0\\ 1999.94 8.0\\
1999.08 13.7\\ 1999.15 12.6\\
2000.00 6.3\\ 2000.06 9.9\\ 2000.12 4.5\\ 2000.19 8.1\\ 2000.25 9.0\\ 2000.31 5.4\\ 2000.38 10.5\\ 2000.44 7.2\\ 2000.50 9.5\\ 2000.56 7.3\\ 2000.62 5.8\\ 2000.69 10.3\\ 2000.75 8.0\\ 2000.81 6.5\\ 2000.88 9.0\\ 2000.94 5.5\\
2000.00 -1.0\\ 2000.02 -1.9\\ 2000.30 16.3\\ 2000.27 12.5\\
2001.00 9.4\\ 2001.06 6.1\\ 2001.12 11.2\\ 2001.19 7.9\\ 2001.25 5.5\\ 2001.31 10.3\\ 2001.38 8.8\\ 2001.44 7.0\\ 2001.50 12.0\\ 2001.56 6.3\\ 2001.62 10.2\\ 2001.69 8.1\\ 2001.75 11.1\\ 2001.81 7.2\\ 2001.88 9.0\\ 2001.94 11.4\\
2001.67 21.6\\ 2001.68 20.5\\ 2001.66 15.8\\ 2001.70 15.0\\ 2001.72 14.5\\ 2001.64 13.2\\ 2001.75 13.8\\
2002.00 6.6\\ 2002.06 10.8\\ 2002.12 4.5\\ 2002.19 8.7\\ 2002.25 9.8\\ 2002.31 5.6\\ 2002.38 11.5\\ 2002.44 7.7\\ 2002.50 8.1\\ 2002.56 5.0\\ 2002.62 2.9\\ 2002.69 9.2\\ 2002.75 6.0\\ 2002.81 3.9\\ 2002.88 7.4\\ 2002.94 2.5\\
2002.17 13.5\\ 2002.46 13.4\\ 2002.58 14.0\\ 2002.62 -0.5\\ 2002.70 -1.5\\ 2002.75 -2.4\\
2003.00 7.3\\ 2003.06 4.5\\ 2003.12 8.8\\ 2003.19 6.0\\ 2003.25 4.0\\ 2003.31 8.0\\ 2003.38 6.8\\ 2003.44 5.3\\ 2003.50 9.0\\ 2003.56 4.3\\ 2003.62 7.5\\ 2003.69 5.8\\ 2003.75 8.3\\ 2003.81 5.0\\ 2003.88 6.5\\ 2003.94 8.5\\
2003.22 14.1\\ 2003.30 13.0\\ 2003.49 13.0\\
2004.00 7.0\\ 2004.06 10.0\\ 2004.12 5.5\\ 2004.19 8.5\\ 2004.25 9.3\\ 2004.31 6.3\\ 2004.38 10.5\\ 2004.44 7.8\\ 2004.50 10.2\\ 2004.56 8.1\\ 2004.62 6.7\\ 2004.69 10.9\\ 2004.75 8.8\\ 2004.81 7.4\\ 2004.88 9.7\\ 2004.94 6.5\\
2005.00 8.9\\ 2005.06 5.6\\ 2005.12 10.7\\ 2005.19 7.4\\ 2005.25 5.0\\ 2005.31 9.8\\ 2005.38 8.3\\ 2005.44 6.5\\ 2005.50 10.5\\ 2005.56 4.8\\ 2005.62 8.7\\ 2005.69 6.6\\ 2005.75 9.6\\ 2005.81 5.7\\ 2005.88 7.5\\ 2005.94 9.9\\
2005.01 12.4\\ 2005.50 12.3\\
2006.00 5.8\\ 2006.06 8.8\\ 2006.12 4.3\\ 2006.19 7.3\\ 2006.25 8.1\\ 2006.31 5.1\\ 2006.38 9.3\\ 2006.44 6.6\\ 2006.50 8.0\\ 2006.56 5.8\\ 2006.62 4.3\\ 2006.69 8.8\\ 2006.75 6.5\\ 2006.81 5.0\\ 2006.88 7.5\\ 2006.94 4.0\\
2006.47 12.1\\ 2006.67 10.8\\
2007.00 8.3\\ 2007.06 5.5\\ 2007.12 9.8\\ 2007.19 7.0\\ 2007.25 5.0\\ 2007.31 9.0\\ 2007.38 7.8\\ 2007.44 6.3\\ 2007.50 10.8\\ 2007.56 6.1\\ 2007.62 9.3\\ 2007.69 7.6\\ 2007.75 10.1\\ 2007.81 6.8\\ 2007.88 8.3\\ 2007.94 10.3\\
2007.60 12.1\\
2008.00 7.3\\ 2008.06 10.9\\ 2008.12 5.5\\ 2008.19 9.1\\ 2008.25 10.0\\ 2008.31 6.4\\ 2008.38 11.5\\ 2008.44 8.2\\ 2008.50 10.8\\ 2008.56 8.1\\ 2008.62 6.3\\ 2008.69 11.7\\ 2008.75 9.0\\ 2008.81 7.2\\ 2008.88 10.2\\ 2008.94 6.0\\
2008.05 13.5\\ 2008.03 13.2\\ 2008.82 19.0\\ 2008.85 18.6\\ 2008.86 18.8\\ 2008.88 17.0\\ 2008.84 16.1\\ 2008.87 15.5\\ 2008.80 14.8\\ 2008.90 13.8\\
2009.00 7.8\\ 2009.06 5.0\\ 2009.12 9.3\\ 2009.19 6.5\\ 2009.25 4.5\\ 2009.31 8.5\\ 2009.38 7.3\\ 2009.44 5.8\\ 2009.50 8.8\\ 2009.56 4.1\\ 2009.62 7.3\\ 2009.69 5.6\\ 2009.75 8.1\\ 2009.81 4.8\\ 2009.88 6.3\\ 2009.94 8.3\\
2010.00 4.9\\ 2010.06 8.2\\ 2010.12 3.2\\ 2010.19 6.6\\ 2010.25 7.4\\ 2010.31 4.0\\ 2010.38 8.8\\ 2010.44 5.7\\ 2010.50 5.3\\ 2010.56 3.1\\ 2010.62 1.6\\ 2010.69 6.1\\ 2010.75 3.8\\ 2010.81 2.3\\ 2010.88 4.8\\ 2010.94 1.3\\
2010.27 13.2\\ 2010.30 13.4\\ 2010.20 1.0\\ 2010.22 -4.3\\
2011.00 2.6\\ 2011.06 0.4\\ 2011.12 3.8\\ 2011.19 1.6\\ 2011.25 0.0\\ 2011.31 3.2\\ 2011.38 2.2\\ 2011.44 1.0\\ 2011.50 1.0\\ 2011.56 -3.4\\ 2011.62 -0.4\\ 2011.69 -2.0\\ 2011.75 0.3\\ 2011.81 -2.7\\ 2011.88 -1.3\\ 2011.94 0.5\\
2012.00 -1.7\\ 2012.06 1.0\\ 2012.12 -3.1\\ 2012.19 -0.3\\ 2012.25 0.4\\ 2012.31 -2.4\\ 2012.38 1.5\\ 2012.44 -1.0\\ 2012.50 0.1\\ 2012.56 -2.0\\ 2012.62 -3.4\\ 2012.69 0.8\\ 2012.75 -1.3\\ 2012.81 -2.7\\ 2012.88 -0.4\\ 2012.94 -3.6\\
2013.00 -1.7\\ 2013.06 -4.2\\ 2013.12 -0.4\\ 2013.19 -2.8\\ 2013.25 -4.6\\ 2013.31 -1.1\\ 2013.38 -2.2\\ 2013.44 -3.5\\ 2013.50 -0.7\\ 2013.56 -4.9\\ 2013.62 -2.0\\ 2013.69 -3.6\\ 2013.75 -1.4\\ 2013.81 -4.2\\ 2013.88 -2.9\\ 2013.94 -1.1\\
2014.00 -4.4\\ 2014.06 -1.7\\ 2014.12 -5.7\\ 2014.19 -3.1\\ 2014.25 -2.4\\ 2014.31 -5.0\\ 2014.38 -1.3\\ 2014.44 -3.7\\ 2014.50 -2.6\\ 2014.56 -4.6\\ 2014.62 -5.9\\ 2014.69 -1.9\\ 2014.75 -3.9\\ 2014.81 -5.2\\ 2014.88 -3.0\\ 2014.94 -6.1\\
2015.00 -3.6\\ 2015.06 -6.1\\ 2015.12 -2.3\\ 2015.19 -4.7\\ 2015.25 -6.5\\ 2015.31 -3.0\\ 2015.38 -4.1\\ 2015.44 -5.4\\ 2015.50 -2.4\\ 2015.56 -6.6\\ 2015.62 -3.7\\ 2015.69 -5.3\\ 2015.75 -3.1\\ 2015.81 -5.9\\ 2015.88 -4.6\\ 2015.94 -2.8\\
2015.23 -9.3\\ 2015.24 -9.0\\ 2015.70 -7.1\\
2016.00 -5.6\\ 2016.06 -3.2\\ 2016.12 -6.8\\ 2016.19 -4.4\\ 2016.25 -3.8\\ 2016.31 -6.2\\ 2016.38 -2.8\\ 2016.44 -5.0\\
2016.45 -7.9\\ 2016.47 -8.3\\
1997.03 3.5\\ 1997.09 5.4\\ 1997.15 4.5\\ 1997.22 2.9\\ 1997.28 5.9\\ 1997.34 4.0\\ 1997.41 5.6\\ 1997.47 3.3\\ 1997.53 5.9\\ 1997.59 4.7\\ 1997.65 7.0\\ 1997.72 3.4\\ 1997.78 6.1\\ 1997.84 7.4\\ 1997.91 4.5\\ 1997.97 5.7\\
1998.03 3.4\\ 1998.09 6.2\\ 1998.15 4.6\\ 1998.22 5.8\\ 1998.28 4.0\\ 1998.34 7.0\\ 1998.41 3.2\\ 1998.47 5.6\\ 1998.53 6.1\\ 1998.59 2.9\\ 1998.65 6.7\\ 1998.72 4.2\\ 1998.78 5.4\\ 1998.84 3.5\\ 1998.91 6.9\\ 1998.97 4.8\\
1999.03 5.2\\ 1999.09 7.6\\ 1999.15 6.5\\ 1999.22 4.6\\ 1999.28 8.2\\ 1999.34 5.9\\ 1999.41 7.8\\ 1999.47 5.0\\ 1999.53 6.4\\ 1999.59 5.3\\ 1999.65 7.2\\ 1999.72 4.3\\ 1999.78 6.5\\ 1999.84 7.6\\ 1999.91 5.1\\ 1999.97 6.2\\
2000.03 5.8\\ 2000.09 8.8\\ 2000.15 7.1\\ 2000.22 8.3\\ 2000.28 6.5\\ 2000.34 9.6\\ 2000.41 5.6\\ 2000.47 8.1\\ 2000.53 8.9\\ 2000.59 6.3\\ 2000.65 9.4\\ 2000.72 7.3\\ 2000.78 8.4\\ 2000.84 6.8\\ 2000.91 9.6\\ 2000.97 7.8\\
2001.03 7.2\\ 2001.09 9.6\\ 2001.15 8.5\\ 2001.22 6.6\\ 2001.28 10.2\\ 2001.34 7.9\\ 2001.41 9.8\\ 2001.47 7.0\\ 2001.53 9.4\\ 2001.59 8.2\\ 2001.65 10.5\\ 2001.72 6.9\\ 2001.78 9.6\\ 2001.84 10.9\\ 2001.91 8.0\\ 2001.97 9.2\\
2002.03 6.0\\ 2002.09 9.5\\ 2002.15 7.5\\ 2002.22 9.0\\ 2002.28 6.8\\ 2002.34 10.5\\ 2002.41 5.8\\ 2002.47 8.7\\ 2002.53 7.2\\ 2002.59 3.6\\ 2002.65 8.0\\ 2002.72 5.0\\ 2002.78 6.5\\ 2002.84 4.3\\ 2002.91 8.2\\ 2002.97 5.8\\
2003.03 5.5\\ 2003.09 7.4\\ 2003.15 6.5\\ 2003.22 4.9\\ 2003.28 7.9\\ 2003.34 6.0\\ 2003.41 7.6\\ 2003.47 5.3\\ 2003.53 6.9\\ 2003.59 5.8\\ 2003.65 7.7\\ 2003.72 4.8\\ 2003.78 7.0\\ 2003.84 8.1\\ 2003.91 5.6\\ 2003.97 6.7\\
2004.03 6.6\\ 2004.09 9.1\\ 2004.15 7.7\\ 2004.22 8.7\\ 2004.28 7.1\\ 2004.34 9.8\\ 2004.41 6.4\\ 2004.47 8.5\\ 2004.53 9.6\\ 2004.59 7.2\\ 2004.65 10.1\\ 2004.72 8.2\\ 2004.78 9.1\\ 2004.84 7.7\\ 2004.91 10.3\\ 2004.97 8.6\\
2005.03 6.7\\ 2005.09 9.1\\ 2005.15 8.0\\ 2005.22 6.1\\ 2005.28 9.7\\ 2005.34 7.4\\ 2005.41 9.3\\ 2005.47 6.5\\ 2005.53 7.9\\ 2005.59 6.7\\ 2005.65 9.0\\ 2005.72 5.4\\ 2005.78 8.1\\ 2005.84 9.4\\ 2005.91 6.5\\ 2005.97 7.7\\
2006.03 5.4\\ 2006.09 7.9\\ 2006.15 6.5\\ 2006.22 7.5\\ 2006.28 5.9\\ 2006.34 8.6\\ 2006.41 5.2\\ 2006.47 7.3\\ 2006.53 7.4\\ 2006.59 4.8\\ 2006.65 7.9\\ 2006.72 5.8\\ 2006.78 6.9\\ 2006.84 5.3\\ 2006.91 8.1\\ 2006.97 6.3\\
2007.03 6.5\\ 2007.09 8.4\\ 2007.15 7.5\\ 2007.22 5.9\\ 2007.28 8.9\\ 2007.34 7.0\\ 2007.41 8.6\\ 2007.47 6.3\\ 2007.53 8.7\\ 2007.59 7.6\\ 2007.65 9.5\\ 2007.72 6.6\\ 2007.78 8.8\\ 2007.84 9.9\\ 2007.91 7.4\\ 2007.97 8.5\\
2008.03 6.8\\ 2008.09 9.8\\ 2008.15 8.1\\ 2008.22 9.3\\ 2008.28 7.5\\ 2008.34 10.6\\ 2008.41 6.6\\ 2008.47 9.1\\ 2008.53 10.1\\ 2008.59 6.9\\ 2008.65 10.7\\ 2008.72 8.2\\ 2008.78 9.4\\ 2008.84 7.5\\ 2008.91 10.9\\ 2008.97 8.8\\
2009.03 6.0\\ 2009.09 7.9\\ 2009.15 7.0\\ 2009.22 5.4\\ 2009.28 8.4\\ 2009.34 6.5\\ 2009.41 8.1\\ 2009.47 5.8\\ 2009.53 6.7\\ 2009.59 5.6\\ 2009.65 7.5\\ 2009.72 4.6\\ 2009.78 6.8\\ 2009.84 7.9\\ 2009.91 5.4\\ 2009.97 6.5\\
2010.03 4.4\\ 2010.09 7.2\\ 2010.15 5.6\\ 2010.22 6.8\\ 2010.28 5.0\\ 2010.34 8.0\\ 2010.41 4.2\\ 2010.47 6.6\\ 2010.53 4.7\\ 2010.59 2.1\\ 2010.65 5.2\\ 2010.72 3.1\\ 2010.78 4.2\\ 2010.84 2.6\\ 2010.91 5.4\\ 2010.97 3.6\\
2011.03 1.2\\ 2011.09 2.7\\ 2011.15 2.0\\ 2011.22 0.7\\ 2011.28 3.1\\ 2011.34 1.6\\ 2011.41 2.8\\ 2011.47 1.0\\ 2011.53 -1.0\\ 2011.59 -1.9\\ 2011.65 -0.2\\ 2011.72 -2.9\\ 2011.78 -0.8\\ 2011.84 0.1\\ 2011.91 -2.1\\ 2011.97 -1.1\\
2012.03 -2.1\\ 2012.09 0.2\\ 2012.15 -1.1\\ 2012.22 -0.2\\ 2012.28 -1.6\\ 2012.34 0.8\\ 2012.41 -2.2\\ 2012.47 -0.3\\ 2012.53 -0.5\\ 2012.59 -2.9\\ 2012.65 0.0\\ 2012.72 -1.9\\ 2012.78 -1.0\\ 2012.84 -2.4\\ 2012.91 0.1\\ 2012.97 -1.5\\
2013.03 -3.3\\ 2013.09 -1.6\\ 2013.15 -2.4\\ 2013.22 -3.8\\ 2013.28 -1.2\\ 2013.34 -2.9\\ 2013.41 -1.5\\ 2013.47 -3.5\\ 2013.53 -2.6\\ 2013.59 -3.5\\ 2013.65 -1.8\\ 2013.72 -4.4\\ 2013.78 -2.4\\ 2013.84 -1.5\\ 2013.91 -3.7\\ 2013.97 -2.7\\
2014.03 -4.7\\ 2014.09 -2.6\\ 2014.15 -3.8\\ 2014.22 -2.9\\ 2014.28 -4.3\\ 2014.34 -2.0\\ 2014.41 -4.9\\ 2014.47 -3.0\\ 2014.53 -3.1\\ 2014.59 -5.4\\ 2014.65 -2.7\\ 2014.72 -4.5\\ 2014.78 -3.6\\ 2014.84 -5.0\\ 2014.91 -2.5\\ 2014.97 -4.1\\
2015.03 -5.2\\ 2015.09 -3.5\\ 2015.15 -4.3\\ 2015.22 -5.7\\ 2015.28 -3.1\\ 2015.34 -4.8\\ 2015.41 -3.4\\ 2015.47 -5.4\\ 2015.53 -4.3\\ 2015.59 -5.2\\ 2015.65 -3.5\\ 2015.72 -6.1\\ 2015.78 -4.1\\ 2015.84 -3.2\\ 2015.91 -5.4\\ 2015.97 -4.4\\
2016.03 -5.9\\ 2016.09 -4.0\\ 2016.15 -5.1\\ 2016.22 -4.2\\ 2016.28 -5.5\\ 2016.34 -3.4\\ 2016.41 -6.1\\ 2016.47 -4.4\\
2016.50 0\\ 2016.55 0\\ 2016.60 0\\ 2016.65 0\\ 2016.70 0\\ 2016.75 0\\ 2016.80 0\\ 2016.85 0\\ 2016.90 0\\ 2016.95 0\\
2017.00 0\\ 2017.05 0\\ 2017.10 0\\ 2017.15 0\\ 2017.20 0\\ 2017.25 0\\ 2017.30 0\\ 2017.35 0\\ 2017.40 0\\ 2017.45 0\\ 2017.50 0\\ 2017.55 0\\ 2017.60 0\\ 2017.65 0\\ 2017.70 0\\ 2017.75 0\\ 2017.80 0\\ 2017.85 0\\ 2017.90 0\\ 2017.95 0\\
2018.00 0\\ 2018.05 0\\ 2018.10 0\\ 2018.15 0\\ 2018.20 0\\ 2018.25 0\\ 2018.30 0\\ 2018.35 0\\ 2018.40 0\\ 2018.45 0\\ 2018.50 0\\ 2018.55 0\\ 2018.60 0\\ 2018.65 0\\ 2018.70 0\\ 2018.75 0\\ 2018.80 0\\ 2018.85 0\\ 2018.90 0\\ 2018.95 0\\
2019.00 0\\ 2019.05 0\\ 2019.10 0\\ 2019.15 0\\ 2019.20 0\\ 2019.25 0\\ 2019.30 0\\ 2019.35 0\\ 2019.40 0\\ 2019.45 0\\ 2019.50 0\\ 2019.55 0\\ 2019.60 0\\ 2019.65 0\\ 2019.70 0\\ 2019.75 0\\ 2019.80 0\\ 2019.85 0\\ 2019.90 0\\ 2019.95 0\\
2020.00 0\\ 2020.05 0\\ 2020.10 0\\ 2020.15 0\\ 2020.20 0\\ 2020.25 0\\ 2020.30 0\\ 2020.35 0\\ 2020.40 0\\ 2020.45 0\\ 2020.50 0\\ 2020.55 0\\ 2020.60 0\\ 2020.65 0\\ 2020.70 0\\ 2020.75 0\\ 2020.80 0\\ 2020.85 0\\ 2020.90 0\\ 2020.95 0\\
2021.00 0\\ 2021.05 0\\ 2021.10 0\\ 2021.15 0\\ 2021.20 0\\ 2021.25 0\\ 2021.30 0\\ 2021.35 0\\ 2021.40 0\\ 2021.45 0\\ 2021.50 0\\ 2021.55 0\\ 2021.60 0\\ 2021.65 0\\ 2021.70 0\\ 2021.75 0\\ 2021.80 0\\ 2021.85 0\\ 2021.90 0\\ 2021.95 0\\
2022.00 0\\ 2022.05 0\\ 2022.10 0\\ 2022.15 0\\ 2022.20 0\\ 2022.25 0\\ 2022.30 0\\ 2022.35 0\\ 2022.40 0\\ 2022.45 0\\ 2022.50 0\\ 2022.55 0\\ 2022.60 0\\ 2022.65 0\\ 2022.70 0\\ 2022.75 0\\ 2022.80 0\\ 2022.85 0\\ 2022.90 0\\ 2022.95 0\\ 2023.00 0\\
};
\addlegendentry{\textcolor{lgray}{Rendement\_A10}}
\addplot[black, line width=2bp, no marks] coordinates {(1997,0) (2016.5,0)};
\addlegendentry{\textcolor{lgray}{0,0\%}}
\end{axis}
\fill[white] (102.5bp,364bp) rectangle (743.5bp,398bp);
\node[anchor=base, inner sep=0pt, text=lgray, font=\fontsize{13bp}{15bp}\selectfont\bfseries] at (422.75bp,384.3bp) {Performance par rapport à l'indice CAC 40 GROSS TR\ \ du placement SBF120 Index GROSS TR en fonction de la date de début pour des durées};
\node[anchor=base, inner sep=0pt, text=lgray, font=\fontsize{13bp}{15bp}\selectfont\bfseries] at (422.75bp,368.8bp) {entre 4 (A04) et 10 ans (A10).\ \ Cotations entre janv. 1997 et juil. 2026. Pas de revenus disponibles ou pris en compte.};
\node[anchor=base west, inner sep=0pt, font=\fontsize{15bp}{18bp}\selectfont\bfseries] at (13.5bp,411.5bp) {ADAM Informe. Evolution historique des performances en euros pour des détentions de 4 ans (A04) à 10 ans (A10) sans les revenus éventuels};
\end{tikzpicture}
\end{document}
